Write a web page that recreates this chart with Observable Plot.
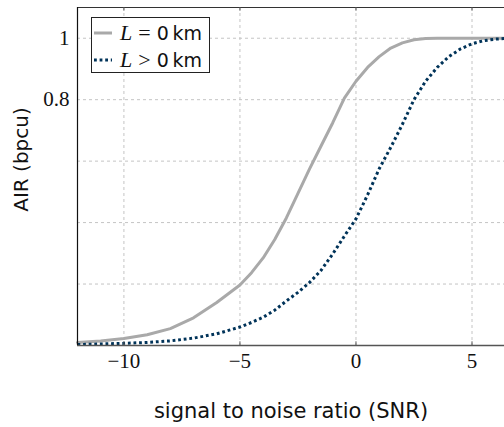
<!DOCTYPE html>
<html>
<head>
<meta charset="utf-8">
<script src="https://cdn.jsdelivr.net/npm/d3@7"></script>
<script src="https://cdn.jsdelivr.net/npm/@observablehq/plot@0.6"></script>
<style>
  html, body { margin: 0; padding: 0; background: #fff; }
  #wrap { position: relative; width: 504px; height: 427px; overflow: hidden; }
  #wrap g[aria-label="x-axis tick label"],
  #wrap g[aria-label="y-axis tick label"] {
    font-family: "Liberation Serif", serif;
    font-size: 21px;
  }
  #legend {
    position: absolute; left: 91px; top: 17px; width: 119px; height: 56px;
    border: 1px solid #222; background: #fff; box-sizing: border-box;
    font-family: "DejaVu Sans", sans-serif; font-size: 19px; color: #111;
  }
  .row { position: absolute; left: 0; height: 24px; display: flex; align-items: center; white-space: nowrap; }
  .row svg { margin-left: 2px; margin-right: 8px; }
  .m { font-family: "Liberation Serif", serif; font-size: 22px; }
  .mi { font-family: "Liberation Serif", serif; font-style: italic; font-size: 22px; }
</style>
</head>
<body>
<div id="wrap"></div>
<script>
// ---- data ----
const snr = [-12, -11, -10, -9, -8, -7, -6, -5, -4.5, -4, -3.5, -3, -2.5, -2, -1.5, -1, -0.5, 0, 0.5, 1, 1.5, 2, 2.5, 3, 3.5, 4, 4.5, 5, 5.5, 6, 6.4];
const airL0 = [0.010, 0.015, 0.023, 0.035, 0.055, 0.090, 0.140, 0.197, 0.237, 0.285, 0.345, 0.415, 0.495, 0.575, 0.650, 0.725, 0.805, 0.860, 0.905, 0.940, 0.968, 0.985, 0.995, 0.999, 1.0, 1.0, 1.0, 1.0, 1.0, 1.0, 1.0];
const airL1 = [0.003, 0.005, 0.007, 0.010, 0.015, 0.024, 0.038, 0.060, 0.075, 0.092, 0.115, 0.145, 0.173, 0.205, 0.245, 0.298, 0.356, 0.412, 0.490, 0.575, 0.645, 0.720, 0.800, 0.860, 0.905, 0.940, 0.965, 0.982, 0.992, 0.997, 0.999];
const seriesNames = ["L = 0 km", "L > 0 km"];
const xTicks = [-10, -5, 0, 5];
const yGrid = [0.2, 0.4, 0.6, 0.8, 1.0];
const yTickLabels = [0.8, 1];
const xLabel = "signal to noise ratio (SNR)";
const yLabel = "AIR (bpcu)";

const grayColor = "#a9a9a9";
const blueColor = "#003359";

const d0 = snr.map((x, i) => ({x, y: airL0[i], s: seriesNames[0]}));
const d1 = snr.map((x, i) => ({x, y: airL1[i], s: seriesNames[1]}));

const fmt = d => d < 0 ? "\u2212" + Math.abs(d) : String(d);

const chart = Plot.plot({
  width: 504,
  height: 427,
  marginLeft: 77,
  marginRight: 0,
  marginTop: 7,
  marginBottom: 82,
  x: {domain: [-12, 6.4]},
  y: {domain: [0, 1.1]},
  style: {background: "white", fontFamily: "Liberation Serif", fontSize: "21px", color: "#111"},
  marks: [
    Plot.gridY(yGrid, {stroke: "#c4c4c4", strokeOpacity: 1, strokeDasharray: "3,3", strokeWidth: 1}),
    Plot.gridX(xTicks, {stroke: "#c4c4c4", strokeOpacity: 1, strokeDasharray: "3,3", strokeWidth: 1}),
    Plot.line(d0, {x: "x", y: "y", stroke: grayColor, strokeWidth: 3, strokeLinejoin: "round"}),
    Plot.line(d1, {x: "x", y: "y", stroke: blueColor, strokeWidth: 3, strokeDasharray: "2.8,2.8", strokeLinecap: "butt"}),
    Plot.ruleY([0], {stroke: "#555", strokeWidth: 1.5}),
    Plot.ruleY([1.1], {stroke: "#333", strokeWidth: 1.2}),
    Plot.ruleX([-12], {stroke: "#111", strokeWidth: 1.2}),
    Plot.ruleX(xTicks, {y1: 0, y2: 0.012, stroke: "#555", strokeWidth: 1}),
    Plot.ruleX(xTicks, {y1: 1.088, y2: 1.1, stroke: "#555", strokeWidth: 1}),
    Plot.axisX(xTicks, {tickSize: 0, tickPadding: 8, label: null, tickFormat: fmt, fontSize: 21, fontFamily: "Liberation Serif"}),
    Plot.axisY(yTickLabels, {tickSize: 0, tickPadding: 8, label: null, tickFormat: d => String(d), fontSize: 21, fontFamily: "Liberation Serif"}),
    Plot.text([xLabel], {frameAnchor: "bottom", dy: 72, fontSize: 21, fontFamily: "DejaVu Sans", fill: "#111"}),
    Plot.text([yLabel], {frameAnchor: "left", textAnchor: "middle", rotate: -90, dx: -56, dy: -17, fontSize: 20, fontFamily: "DejaVu Sans", fill: "#111"})
  ]
});

const wrap = document.getElementById("wrap");
wrap.appendChild(chart);

const legend = document.createElement("div");
legend.id = "legend";
legend.innerHTML = `
  <div class="row" style="top:3px">
    <svg width="18" height="6"><line x1="0" y1="3" x2="18" y2="3" stroke="${grayColor}" stroke-width="3"/></svg>
    <span class="mi">L</span><span class="m" style="margin:0 6px">=</span><span>0&#8201;km</span>
  </div>
  <div class="row" style="top:30px">
    <svg width="18" height="6"><line x1="0" y1="3" x2="18" y2="3" stroke="${blueColor}" stroke-width="3" stroke-dasharray="2.8,2.8"/></svg>
    <span class="mi">L</span><span class="m" style="margin:0 6px">&gt;</span><span>0&#8201;km</span>
  </div>`;
wrap.appendChild(legend);
</script>
</body>
</html>
